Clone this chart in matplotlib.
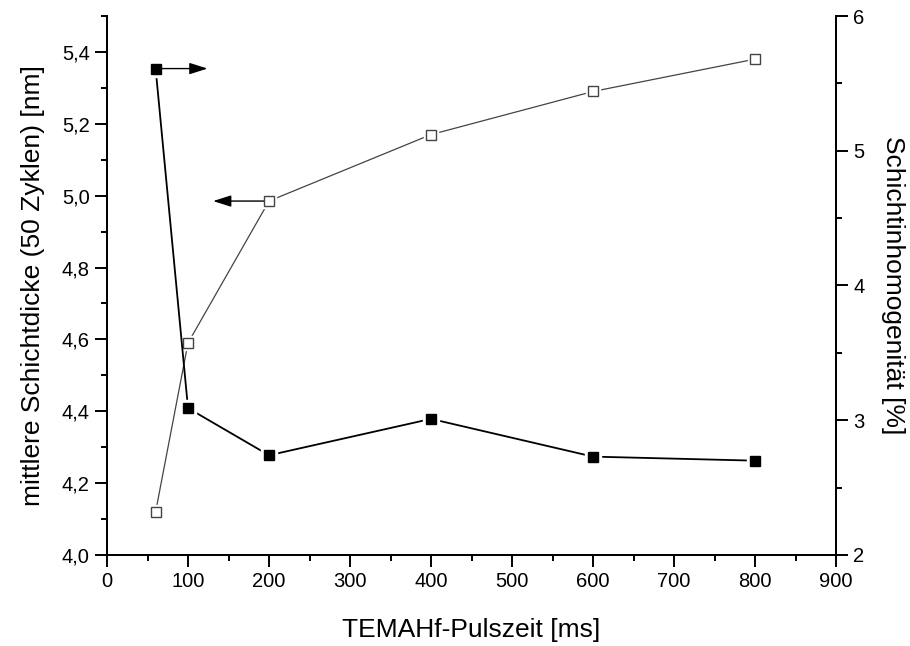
import matplotlib.pyplot as plt
from matplotlib.ticker import MultipleLocator, FuncFormatter

plt.rcParams['font.family'] = ['Liberation Sans', 'DejaVu Sans']

# TEMAHf pulse time series
pulszeit = [60, 100, 200, 400, 600, 800]
schichtdicke = [4.12, 4.59, 4.985, 5.17, 5.29, 5.38]      # nm, left axis
inhomogenitaet = [5.61, 3.09, 2.74, 3.01, 2.73, 2.70]     # %, right axis

fig = plt.figure(figsize=(9.1, 6.46), dpi=100)
ax = fig.add_axes([0.1176, 0.1409, 0.8011, 0.8343])
ax2 = ax.twinx()

# open squares: mean layer thickness
ax.plot(pulszeit, schichtdicke, color='#444444', lw=0.9, zorder=2)
ax.plot(pulszeit, schichtdicke, ls='none', marker='s', ms=10.5, mfc='white',
        mec='white', zorder=3)
ax.plot(pulszeit, schichtdicke, ls='none', marker='s', ms=7.3, mfc='white',
        mec='#444444', mew=1.0, zorder=4)

# filled squares: layer inhomogeneity
ax2.plot(pulszeit, inhomogenitaet, color='black', lw=1.3, zorder=2)
ax2.plot(pulszeit, inhomogenitaet, ls='none', marker='s', ms=11, mfc='white',
         mec='white', zorder=3)
ax2.plot(pulszeit, inhomogenitaet, ls='none', marker='s', ms=7.6, mfc='black',
         mec='black', zorder=4)

# arrows pointing to the matching axis
ax2.annotate('', xy=(124, inhomogenitaet[0]), xytext=(65, inhomogenitaet[0]),
             arrowprops=dict(arrowstyle='-|>,head_length=1.1,head_width=0.35',
                             color='black', lw=1.0, shrinkA=0, shrinkB=0))
ax.annotate('', xy=(131, schichtdicke[2]), xytext=(195, schichtdicke[2]),
            arrowprops=dict(arrowstyle='-|>,head_length=1.1,head_width=0.35',
                            color='black', lw=1.0, shrinkA=0, shrinkB=0))

ax.set_xlim(0, 900)
ax.set_ylim(4.0, 5.5)
ax2.set_ylim(2, 6)

ax.xaxis.set_major_locator(MultipleLocator(100))
ax.xaxis.set_minor_locator(MultipleLocator(50))
ax.yaxis.set_major_locator(MultipleLocator(0.2))
ax.yaxis.set_minor_locator(MultipleLocator(0.1))
ax.yaxis.set_major_formatter(FuncFormatter(lambda v, p: f'{v:.1f}'.replace('.', ',')))
ax2.yaxis.set_major_locator(MultipleLocator(1))
ax2.yaxis.set_minor_locator(MultipleLocator(0.5))

for a in (ax, ax2):
    a.spines['top'].set_visible(False)
    for s in a.spines.values():
        s.set_linewidth(1.4)
    a.tick_params(which='major', direction='out', length=8.5, width=1.4,
                  labelsize=14.5, pad=4)
    a.tick_params(which='minor', direction='out', length=4.5, width=1.4)

ax.set_xlabel('TEMAHf-Pulszeit [ms]', fontsize=19, labelpad=19)
ax.set_ylabel('mittlere Schichtdicke (50 Zyklen) [nm]', fontsize=19, labelpad=12)
ax2.set_ylabel('Schichtinhomogenität [%]', fontsize=19, rotation=270,
               labelpad=29)

fig.savefig('out.png', dpi=100)
